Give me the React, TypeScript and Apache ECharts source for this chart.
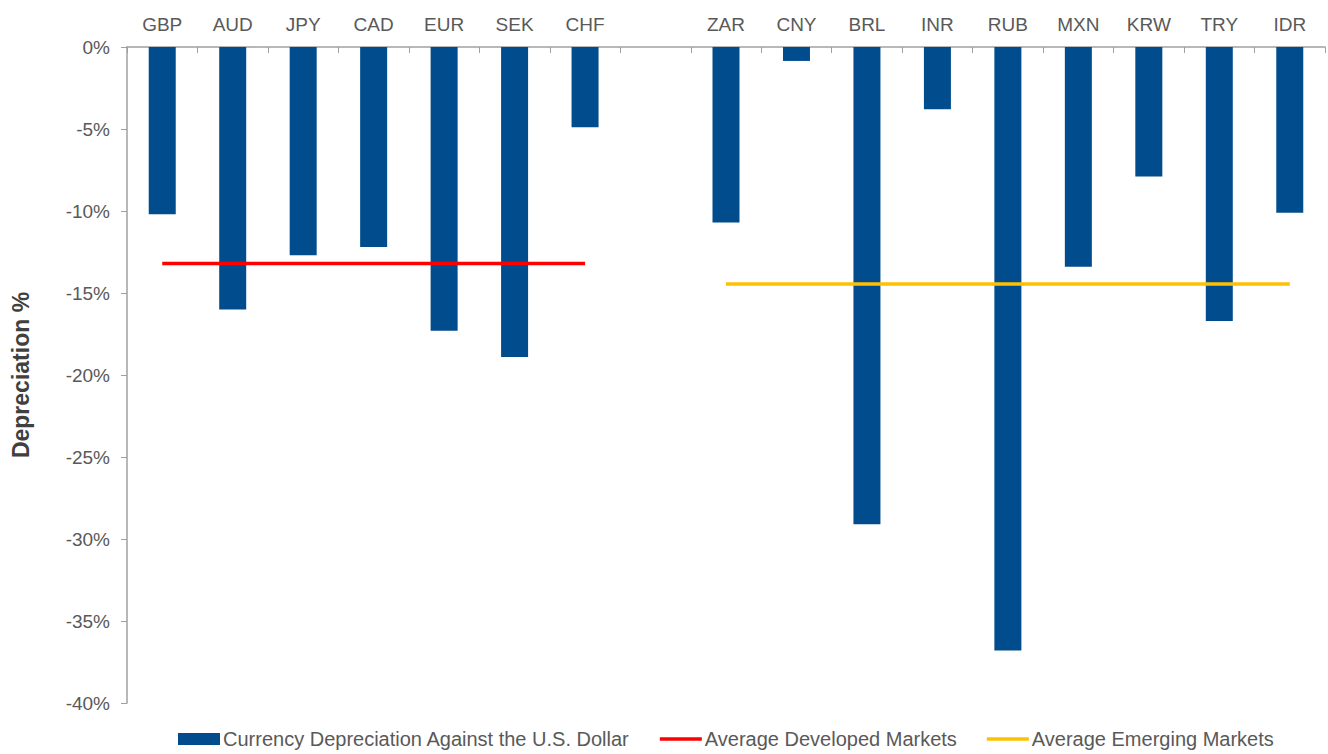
import React, { useEffect, useRef } from "react";
import * as echarts from "echarts";

const developed = ["GBP", "AUD", "JPY", "CAD", "EUR", "SEK", "CHF"];
const emerging = ["ZAR", "CNY", "BRL", "INR", "RUB", "MXN", "KRW", "TRY", "IDR"];
const developedValues = [-10.2, -16.0, -12.7, -12.2, -17.3, -18.9, -4.9];
const emergingValues = [-10.7, -0.85, -29.1, -3.8, -36.8, -13.4, -7.9, -16.7, -10.1];
const developedAverage = -13.2;
const emergingAverage = -14.45;
const yTicks = [0, -5, -10, -15, -20, -25, -30, -35, -40];

const categories = [...developed, "", ...emerging];
const barData = [...developedValues, null, ...emergingValues];
const devLine = [...developed.map(() => developedAverage), null, ...emerging.map(() => null)];
const emLine = [...developed.map(() => null), null, ...emerging.map(() => emergingAverage)];

const FONT = "'Liberation Sans', Arial, sans-serif";
const TEXT = "#595959";
const AXIS = "#A0A0A0";
const LINE_ICON = "path://M0,0 L45,0 L45,4 L0,4 Z";

export default function App() {
  const ref = useRef<HTMLDivElement>(null);
  useEffect(() => {
    if (!ref.current) return;
    const chart = echarts.init(ref.current, undefined, { renderer: "svg" });
    chart.setOption({
      animation: false,
      backgroundColor: "#ffffff",
      textStyle: { fontFamily: FONT },
      grid: { left: 127, right: 3, top: 47, bottom: 51, containLabel: false },
      legend: {
        left: 178,
        top: 729,
        padding: 0,
        itemWidth: 42,
        itemHeight: 12,
        itemGap: 30,
        textStyle: { fontSize: 20, color: TEXT, fontFamily: FONT, padding: [0, 0, 0, -2] },
        data: [
          { name: "Currency Depreciation Against the U.S. Dollar", icon: "rect" },
          { name: "Average Developed Markets", icon: LINE_ICON },
          { name: "Average Emerging Markets", icon: LINE_ICON },
        ],
      },
      xAxis: {
        type: "category",
        position: "top",
        data: categories,
        boundaryGap: true,
        axisLine: { show: true, lineStyle: { color: AXIS, width: 1.5 } },
        axisTick: { show: true, inside: true, length: 6, alignWithLabel: false, lineStyle: { color: AXIS } },
        axisLabel: { fontSize: 19, color: TEXT, fontFamily: FONT, margin: 13, interval: 0 },
        splitLine: { show: false },
      },
      yAxis: {
        type: "value",
        min: -40,
        max: 0,
        interval: 5,
        name: "Depreciation %",
        nameLocation: "middle",
        nameRotate: 90,
        nameGap: 95,
        nameTextStyle: { fontSize: 23, fontWeight: "bold", color: "#404040", fontFamily: FONT },
        axisLine: { show: true, lineStyle: { color: AXIS, width: 1.5 } },
        axisTick: { show: true, inside: false, length: 6, lineStyle: { color: AXIS } },
        axisLabel: {
          fontSize: 19,
          color: TEXT,
          fontFamily: FONT,
          margin: 17,
          formatter: (v: number) => (yTicks.includes(v) ? `${v}%` : ""),
        },
        splitLine: { show: false },
      },
      series: [
        {
          name: "Currency Depreciation Against the U.S. Dollar",
          type: "bar",
          data: barData,
          barWidth: 27,
          itemStyle: { color: "#004C8C" },
          z: 2,
        },
        {
          name: "Average Developed Markets",
          type: "line",
          data: devLine,
          symbol: "none",
          connectNulls: false,
          lineStyle: { color: "#FF0000", width: 3.5 },
          itemStyle: { color: "#FF0000" },
          z: 3,
        },
        {
          name: "Average Emerging Markets",
          type: "line",
          data: emLine,
          symbol: "none",
          connectNulls: false,
          lineStyle: { color: "#FFC000", width: 3.5 },
          itemStyle: { color: "#FFC000" },
          z: 3,
        },
      ],
    });
    return () => chart.dispose();
  }, []);
  return (
    <div
      ref={ref}
      style={{ position: "absolute", left: 0, top: 0, width: 1328, height: 754 }}
    />
  );
}
